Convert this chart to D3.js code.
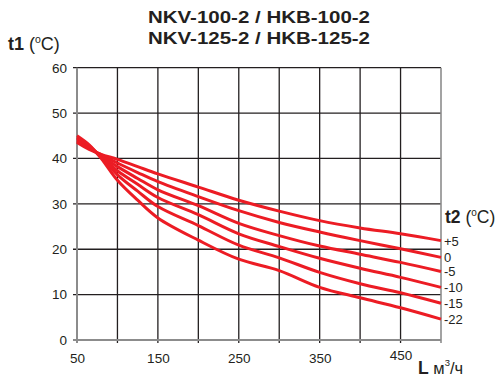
<!DOCTYPE html>
<html><head><meta charset="utf-8">
<script src="https://cdn.jsdelivr.net/npm/d3@7"></script>
<style>body{margin:0;background:#fff}svg{display:block;font-family:"Liberation Sans",Arial,sans-serif}</style>
</head><body><svg id="c" width="502" height="382"></svg>
<script>
const titleLines = ["NKV-100-2 / HKB-100-2", "NKV-125-2 / HKB-125-2"];
const flowL = [50, 65, 80, 100, 125, 150, 200, 250, 300, 350, 400, 450, 500];
const seriesNames = ["+5", "0", "-5", "-10", "-15", "-22"];
const tPlus5  = [43.5, 42.0, 40.9, 39.8, 38.2, 36.6, 33.7, 30.8, 28.4, 26.3, 24.7, 23.4, 21.9];
const tZero   = [43.8, 42.2, 40.8, 39.0, 36.9, 34.9, 31.6, 28.5, 25.9, 23.8, 21.9, 20.1, 18.2];
const tMinus5 = [44.1, 42.4, 40.6, 38.2, 35.6, 33.1, 29.6, 25.7, 23.0, 20.7, 18.9, 17.1, 15.1];
const tMinus10= [44.4, 42.6, 40.4, 37.3, 34.3, 31.4, 27.6, 23.4, 20.6, 18.0, 15.8, 13.8, 11.6];
const tMinus15= [44.7, 42.8, 40.2, 36.4, 32.8, 29.4, 25.2, 20.9, 18.1, 14.9, 12.4, 10.4, 8.1];
const tMinus22= [45.0, 43.0, 40.0, 35.2, 30.8, 26.9, 22.0, 17.8, 15.3, 11.6, 9.3, 7.1, 4.6];
const seriesValues = [tPlus5, tZero, tMinus5, tMinus10, tMinus15, tMinus22];
const xTickLabels = [50, 150, 250, 350, 450];
const xGrid = [100, 150, 200, 250, 300, 350, 400, 450];
const yTicks = [0, 10, 20, 30, 40, 50, 60];

const svg = d3.select("#c");
const x = d3.scaleLinear().domain([50, 500]).range([77, 441]);
const y = d3.scaleLinear().domain([0, 60]).range([340, 67.7]);
const red = "#ec1c24";
const ink = "#231f20";

// title
svg.selectAll("text.title").data(titleLines).enter().append("text")
  .attr("x", 259).attr("y", (d, i) => 23 + i * 20.6)
  .attr("text-anchor", "middle").attr("font-weight", "bold").attr("font-size", 16.5)
  .attr("textLength", 222).attr("lengthAdjust", "spacingAndGlyphs")
  .attr("fill", ink).text(d => d);

// grid
const g = svg.append("g");
g.selectAll("line.v").data(xGrid).enter().append("line")
  .attr("x1", d => x(d)).attr("x2", d => x(d)).attr("y1", y(60)).attr("y2", y(0) + 3)
  .attr("stroke", ink).attr("stroke-width", 1.3);
g.selectAll("line.h").data(yTicks.filter(d => d > 0)).enter().append("line")
  .attr("x1", x(50) - 4).attr("x2", x(500)).attr("y1", d => y(d)).attr("y2", d => y(d))
  .attr("stroke", ink).attr("stroke-width", 1.3);
g.append("line").attr("x1", x(500)).attr("x2", x(500)).attr("y1", y(60)).attr("y2", y(0) + 3)
  .attr("stroke", "#8c8c8c").attr("stroke-width", 1.6);
g.append("line").attr("x1", x(50) - 4).attr("x2", x(500)).attr("y1", y(0)).attr("y2", y(0))
  .attr("stroke", "#8c8c8c").attr("stroke-width", 1.8);
g.append("line").attr("x1", x(50)).attr("x2", x(50)).attr("y1", y(60)).attr("y2", y(0) + 3)
  .attr("stroke", "#8c8c8c").attr("stroke-width", 2);

// axes labels
const yAxis = d3.axisLeft(y).tickValues(yTicks).tickSize(0).tickPadding(10);
svg.append("g").attr("transform", `translate(${x(50)},0)`).call(yAxis)
  .call(s => s.select(".domain").remove())
  .selectAll("text").attr("font-size", 13.5).attr("fill", ink)
  .attr("font-family", "Liberation Sans, Arial, sans-serif");
const xAxis = d3.axisBottom(x).tickValues(xTickLabels).tickSize(0).tickPadding(13);
svg.append("g").attr("transform", `translate(0,${y(0)})`).call(xAxis)
  .call(s => s.select(".domain").remove())
  .selectAll("text").attr("font-size", 13.5).attr("fill", ink)
  .attr("font-family", "Liberation Sans, Arial, sans-serif")
  .attr("dy", d => d === 450 ? "0.5em" : "0.71em");

// curves
const line = d3.line().x((d, i) => x(flowL[i])).y(d => y(d)).curve(d3.curveCatmullRom.alpha(0.5));
svg.selectAll("path.s").data(seriesValues).enter().append("path")
  .attr("d", d => line(d)).attr("fill", "none").attr("stroke", red)
  .attr("stroke-width", 3).attr("stroke-linejoin", "round");

// series labels
svg.selectAll("text.sl").data(seriesNames).enter().append("text")
  .attr("x", 444).attr("y", (d, i) => y(seriesValues[i][seriesValues[i].length - 1]) + 5)
  .attr("font-size", 13).attr("fill", ink).text(d => d);

// axis titles
const t1 = svg.append("text").attr("x", 8).attr("y", 50).attr("font-size", 18).attr("fill", ink);
t1.append("tspan").attr("font-weight", "bold").text("t1");
t1.append("tspan").text(" (");
t1.append("tspan").attr("font-size", 10.5).attr("dy", -7.5).text("o");
t1.append("tspan").attr("dy", 7.5).text("C)");

const t2 = svg.append("text").attr("x", 445).attr("y", 223).attr("font-size", 17.5).attr("fill", ink);
t2.append("tspan").attr("font-weight", "bold").text("t2");
t2.append("tspan").text(" (");
t2.append("tspan").attr("font-size", 10).attr("dy", -7).text("o");
t2.append("tspan").attr("dy", 7).text("C)");

const lt = svg.append("text").attr("x", 418).attr("y", 374).attr("font-size", 17.5).attr("fill", ink);
lt.append("tspan").attr("font-weight", "bold").text("L");
lt.append("tspan").attr("font-size", 16.5).text(" м");
lt.append("tspan").attr("font-size", 9.5).attr("dy", -8).text("3");
lt.append("tspan").attr("font-size", 16.5).attr("dy", 8).text("/ч");
</script></body></html>
